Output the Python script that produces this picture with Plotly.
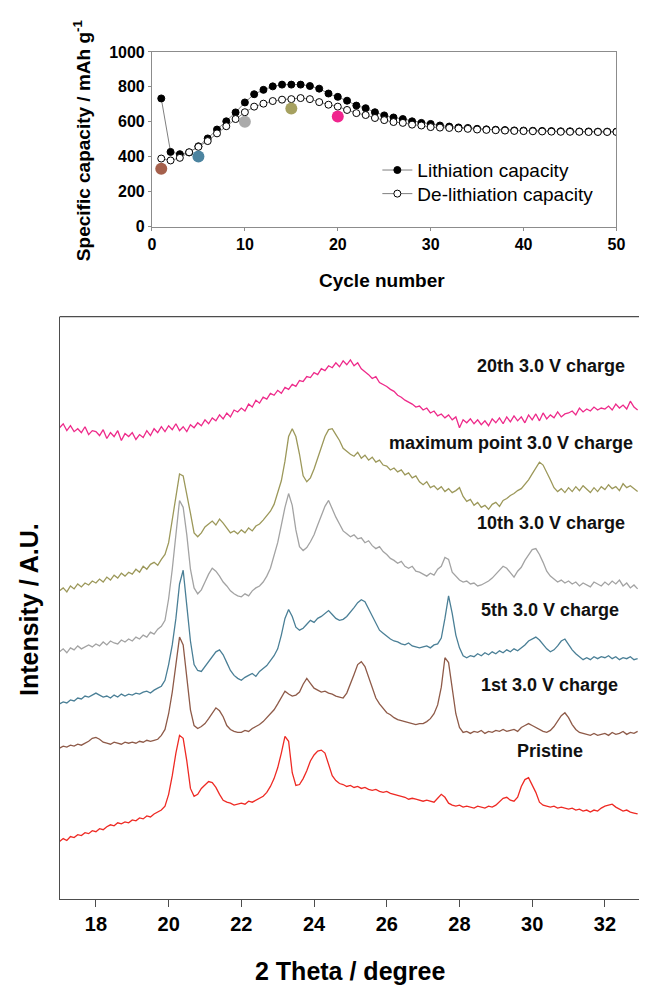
import plotly.graph_objects as go

# ---------------- data: capacity vs cycle ----------------
cycles = list(range(1, 51))
lithiation = [734, 428, 415, 425, 460, 505, 556, 603, 654, 711, 758, 783, 803, 813, 813,
              813, 805, 790, 762, 743, 721, 693, 678, 655, 637, 625, 616, 603, 594, 588,
              579, 573, 568, 565, 560, 557, 555, 553, 551, 550, 549, 548, 547, 546, 546,
              545, 545, 544, 544, 544]
delithiation = [390, 379, 394, 426, 457, 490, 534, 575, 616, 655, 687, 704, 719, 727, 730,
                736, 730, 713, 698, 687, 668, 650, 639, 622, 610, 599, 594, 584, 579, 570,
                567, 565, 562, 560, 556, 554, 552, 550, 548, 547, 546, 545, 544, 543, 543,
                543, 542, 542, 542, 542]
mark_cycles = [1, 5, 10, 15, 20]
mark_caps = [332, 401, 600, 677, 630]
mark_colors = ["#A5604C", "#4C84A0", "#AAAAAA", "#A6A160", "#F0258E"]

# ---------------- data: XRD patterns (2 theta grid, 0.1 deg step) ----------------
two_theta = [round(17.0 + 0.1 * i, 1) for i in range(160)]

xrd_20th = [479, 483, 476, 481, 475, 478, 474, 480, 472, 476,
            475, 471, 477, 468, 474, 470, 476, 466, 473, 470,
            474, 467, 472, 469, 476, 471, 478, 474, 480, 475,
            481, 477, 483, 476, 480, 475, 482, 479, 484, 481,
            487, 483, 489, 486, 492, 488, 494, 490, 497, 495,
            499, 496, 503, 500, 507, 504, 510, 508, 514, 512,
            517, 514, 520, 518, 523, 521, 527, 526, 531, 530,
            535, 533, 539, 537, 542, 540, 545, 541, 547, 543,
            548, 542, 545, 539, 536, 533, 529, 531, 525, 523,
            521, 518, 516, 512, 510, 507, 505, 503, 500, 501,
            497, 499, 494, 496, 491, 493, 489, 492, 487, 490,
            479, 487, 484, 488, 483, 487, 482, 486, 481, 488,
            484, 489, 483, 490, 485, 491, 486, 490, 484, 492,
            487, 493, 486, 494, 488, 492, 489, 495, 490, 493,
            494, 496, 492, 499, 495, 498, 496, 500, 497, 499,
            498, 501, 497, 503, 499, 502, 498, 506, 500, 497]

xrd_max = [313, 316, 312, 318, 315, 320, 317, 321, 319, 323,
           321, 325, 322, 327, 324, 329, 326, 331, 328, 332,
           330, 335, 332, 338, 335, 340, 342, 339, 345, 350,
           362, 385, 410, 432, 430, 412, 392, 372, 368, 372,
           378, 381, 384, 380, 386, 382, 377, 372, 374, 371,
           375, 372, 377, 374, 379, 381, 385, 390, 394, 401,
           412, 425, 445, 470, 478, 470, 452, 430, 424, 428,
           437, 448, 460, 470, 477, 478, 472, 466, 458, 455,
           452, 450, 454, 448, 451, 446, 449, 444, 446, 441,
           440, 436, 438, 434, 436, 431, 433, 428, 430, 424,
           421, 424, 418, 420, 416, 419, 414, 417, 413, 415,
           418, 409, 404, 406, 400, 403, 398, 400, 396, 401,
           403, 399, 405, 407, 410, 412, 415, 417, 421, 426,
           432, 438, 444, 441, 434, 426, 418, 414, 417, 413,
           418, 414, 419, 415, 420, 416, 413, 418, 414, 419,
           416, 421, 417, 419, 415, 422, 418, 420, 417, 414]

xrd_10th = [251, 254, 250, 255, 253, 257, 254, 256, 258, 256,
            259, 257, 261, 258, 262, 260, 259, 263, 261, 264,
            262, 266, 264, 268, 266, 271, 269, 274, 277, 283,
            305, 335, 372, 405, 398, 370, 335, 316, 310, 314,
            322, 330, 336, 333, 328, 322, 318, 313, 310, 308,
            307, 310, 308, 313, 316, 318, 322, 328, 336, 348,
            362, 380, 398, 412, 400, 375, 358, 354, 357, 363,
            370, 380, 390, 399, 405, 396, 388, 381, 374, 371,
            368, 370, 366, 367, 362, 364, 359, 356, 358, 353,
            350, 346, 344, 341, 343, 338, 336, 338, 333, 332,
            330, 328, 331, 329, 335, 338, 347, 345, 332, 328,
            324, 322, 323, 320, 321, 318, 319, 321, 323, 326,
            330, 334, 338, 336, 331, 327, 333, 337, 344, 349,
            355, 356, 350, 342, 333, 328, 325, 322, 324, 321,
            323, 320, 322, 318, 321, 319, 317, 322, 320, 318,
            322, 319, 323, 320, 324, 318, 321, 316, 319, 315]

xrd_5th = [198, 200, 199, 202, 201, 204, 203, 206, 205, 207,
           209, 207, 205, 206, 204, 207, 205, 208, 206, 208,
           207, 209, 208, 210, 211, 209, 212, 214, 216, 222,
           238, 258, 285, 320, 334, 298, 262, 238, 232, 231,
           236, 240, 246, 251, 253, 248, 240, 232, 227, 224,
           222, 225, 227, 229, 226, 231, 234, 237, 242, 247,
           254, 268, 285, 294, 287, 276, 273, 275, 279, 283,
           281, 285, 287, 290, 293, 289, 285, 283, 284, 287,
           291, 296, 301, 304, 302, 295, 287, 280, 273, 270,
           267, 264, 262, 261, 259, 258, 260, 257, 256, 255,
           256, 257, 255, 258, 259, 265, 285, 308, 290, 268,
           255, 247, 245, 247, 246, 249, 247, 250, 248, 251,
           249, 252, 250, 253, 251, 254, 252, 255, 258, 262,
           264, 266, 263, 258, 254, 251, 253, 257, 262, 264,
           258, 253, 249, 246, 243, 245, 243, 246, 244, 246,
           245, 247, 244, 246, 243, 245, 244, 246, 243, 244]

xrd_1st = [153, 155, 154, 156, 155, 157, 156, 158, 160, 163,
           164, 162, 159, 158, 157, 159, 158, 157, 159, 158,
           159, 158, 160, 159, 161, 160, 161, 162, 166, 172,
           188, 210, 238, 266, 258, 228, 192, 176, 173, 175,
           178, 183, 189, 194, 191, 185, 176, 172, 170, 169,
           169, 171, 170, 173, 175, 177, 180, 184, 188, 192,
           198, 205, 211, 208, 206, 207, 210, 218, 224, 219,
           214, 212, 210, 211, 209, 208, 206, 205, 204, 209,
           218, 228, 238, 241, 236, 226, 214, 204, 198, 193,
           189, 187, 184, 182, 181, 180, 179, 178, 177, 178,
           178, 180, 183, 188, 197, 215, 245, 240, 214, 188,
           174, 169, 170, 168, 170, 169, 171, 168, 170, 169,
           171, 170, 172, 170, 171, 172, 170, 174, 176, 178,
           176, 174, 172, 170, 169, 171, 175, 180, 186, 189,
           184, 177, 172, 169, 168, 167, 166, 168, 166, 167,
           168, 166, 169, 167, 168, 170, 167, 169, 168, 170]

xrd_pristine = [58, 61, 59, 63, 62, 65, 64, 67, 66, 69,
                68, 71, 70, 73, 75, 74, 77, 76, 78, 77,
                80, 79, 82, 81, 84, 83, 86, 88, 90, 94,
                106, 125, 148, 166, 163, 140, 112, 104, 106, 112,
                116, 119, 118, 113, 106, 100, 98, 97, 95, 96,
                97, 96, 99, 98, 100, 102, 104, 108, 114, 122,
                133, 148, 165, 160, 128, 115, 116, 122, 130, 140,
                146, 150, 151, 148, 136, 125, 120, 117, 116, 114,
                115, 113, 114, 112, 113, 111, 110, 111, 109, 108,
                109, 107, 106, 105, 104, 103, 101, 102, 101, 100,
                99, 100, 99, 98, 102, 106, 103, 97, 95, 94,
                95, 93, 94, 93, 92, 94, 93, 92, 94, 93,
                95, 99, 102, 103, 100, 99, 103, 114, 121, 123,
                116, 108, 98, 95, 94, 93, 94, 92, 93, 92,
                91, 92, 90, 91, 89, 90, 88, 90, 89, 92,
                94, 95, 96, 93, 91, 89, 90, 88, 87, 86]

xrd_names = ["Pristine", "1st 3.0 V charge", "5th 3.0 V charge", "10th 3.0 V charge",
             "maximum point 3.0 V charge", "20th 3.0 V charge"]
xrd_series = [xrd_pristine, xrd_1st, xrd_5th, xrd_10th, xrd_max, xrd_20th]
xrd_colors = ["#EE2A24", "#8E5A48", "#4A7F96", "#A3A3A3", "#9C985A", "#EE2A8A"]
x_ticks = [18, 20, 22, 24, 26, 28, 30, 32]

# ---------------- layout geometry (page pixels of the 648 x 995 window) ----------------
W, H = 648, 995
FONT = "Liberation Sans, Arial, sans-serif"


def px(x):
    return x / W


def py(y):
    return (H - y) / H


fig = go.Figure()

# top panel
fig.add_trace(go.Scatter(
    x=cycles, y=lithiation, mode="lines+markers", name="Lithiation capacity",
    line=dict(color="#7f7f7f", width=1),
    marker=dict(symbol="circle", size=7, color="black", line=dict(color="black", width=1)),
    xaxis="x", yaxis="y", legend="legend"))
fig.add_trace(go.Scatter(
    x=cycles, y=delithiation, mode="lines+markers", name="De-lithiation capacity",
    line=dict(color="#7f7f7f", width=1),
    marker=dict(symbol="circle", size=7, color="white", line=dict(color="black", width=1)),
    xaxis="x", yaxis="y", legend="legend2"))
fig.add_trace(go.Scatter(
    x=mark_cycles, y=mark_caps, mode="markers", showlegend=False,
    marker=dict(size=12, color=mark_colors, line=dict(width=0)),
    xaxis="x", yaxis="y"))

# bottom panel
for name, ys, col in zip(xrd_names, xrd_series, xrd_colors):
    fig.add_trace(go.Scatter(
        x=two_theta, y=ys, mode="lines", name=name, showlegend=False,
        line=dict(color=col, width=1.3), xaxis="x2", yaxis="y2"))

top_l, top_r, top_t, top_b = 151, 625, 44.7, 222.5
bot_l, bot_r, bot_t, bot_b = 56.7, 648, 314, 906
deg_px = 37.1
x2_max = 17 + (bot_r - bot_l) / deg_px

legend_common = dict(xanchor="left", yanchor="middle", bgcolor="rgba(0,0,0,0)", borderwidth=0,
                     font=dict(size=19, family=FONT, color="black"))

fig.update_layout(
    width=W, height=H, margin=dict(l=0, r=0, t=0, b=0),
    paper_bgcolor="white", plot_bgcolor="white", hovermode=False,
    font=dict(family=FONT, color="black"),
    xaxis=dict(domain=[px(top_l), px(top_r)], range=[0, 50], tickvals=[0, 10, 20, 30, 40, 50],
               showline=True, mirror=True, linecolor="#8c8c8c", linewidth=1,
               ticks="outside", ticklen=3, tickcolor="#8c8c8c", showgrid=False, zeroline=False,
               tickfont=dict(size=16, family=FONT, color="black", weight="bold"), anchor="y"),
    yaxis=dict(domain=[py(top_b), py(top_t)], range=[0, 1000], tickvals=[0, 200, 400, 600, 800, 1000],
               showline=True, mirror=True, linecolor="#8c8c8c", linewidth=1,
               ticks="outside", ticklen=3, tickcolor="#8c8c8c", showgrid=False, zeroline=False,
               tickfont=dict(size=16, family=FONT, color="black", weight="bold"), anchor="x"),
    xaxis2=dict(domain=[px(bot_l), px(bot_r)], range=[17, x2_max], tickvals=x_ticks,
                showline=True, linecolor="#4d4d4d", linewidth=1.2,
                ticks="outside", ticklen=7, tickcolor="#4d4d4d", showgrid=False, zeroline=False,
                tickfont=dict(size=20, family=FONT, color="black", weight="bold"), anchor="y2"),
    yaxis2=dict(domain=[py(bot_b), py(bot_t)], range=[0, 592],
                showline=True, linecolor="#4d4d4d", linewidth=1.2,
                showticklabels=False, ticks="", showgrid=False, zeroline=False, anchor="x2"),
    legend=dict(x=px(381), y=py(165), **legend_common),
    legend2=dict(x=px(381), y=py(189), **legend_common),
    showlegend=True,
)

# top border of the lower panel (its right edge is cut off in the original)
fig.add_shape(type="line", xref="paper", yref="paper",
              x0=px(bot_l), x1=1, y0=py(bot_t), y1=py(bot_t),
              line=dict(color="#4d4d4d", width=1.2))

# axis titles
titles = [
    ("Specific capacity / mAh g<sup>-1</sup>", 79, 134, -90, 19),
    ("Cycle number", 386, 277, 0, 19),
    ("Intensity / A.U.", 25, 612, -90, 25),
    ("2 Theta / degree", 353, 980, 0, 25),
]
for text, x, y, ang, size in titles:
    fig.add_annotation(text=text, x=px(x), y=py(y), xref="paper", yref="paper",
                       showarrow=False, textangle=ang, xanchor="center", yanchor="middle",
                       font=dict(size=size, family=FONT, color="black", weight="bold"))

# curve labels
labels = [
    ("20th 3.0 V charge", 558, 364),
    ("maximum point 3.0 V charge", 517, 443),
    ("10th 3.0 V charge", 558, 524),
    ("5th 3.0 V charge", 557, 612),
    ("1st 3.0 V charge", 557, 689),
    ("Pristine", 557, 756),
]
for text, x, y in labels:
    fig.add_annotation(text=text, x=px(x), y=py(y), xref="paper", yref="paper",
                       showarrow=False, xanchor="center", yanchor="middle",
                       font=dict(size=18, family=FONT, color="#111111", weight="bold"))

# drop the browser's default 8px page margin so the 648x995 figure fills the window
fig.write_html("out.html", config={"displayModeBar": False},
               post_script="document.body.style.margin='0px';document.body.style.overflow='hidden';")
